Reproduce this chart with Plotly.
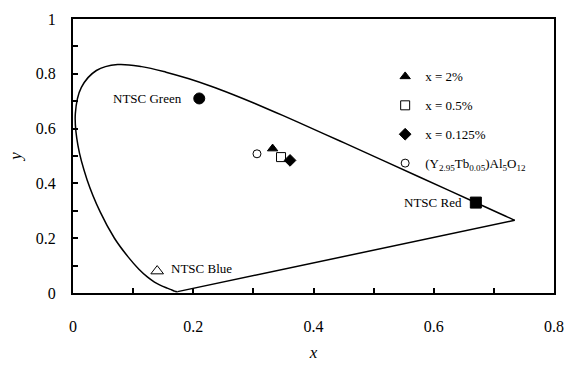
import plotly.graph_objects as go

# CIE 1931 spectral locus (x, y)
locus_x = [0.1741, 0.1733, 0.1714, 0.1689, 0.1644, 0.1566, 0.1440, 0.1355, 0.1241, 0.1096,
           0.0913, 0.0687, 0.0454, 0.0235, 0.0082, 0.0039, 0.0139, 0.0389, 0.0743, 0.1142,
           0.1547, 0.1929, 0.2296, 0.2658, 0.3016, 0.3373, 0.3731, 0.4441, 0.5125, 0.5752,
           0.6270, 0.6658, 0.6915, 0.7079, 0.7190, 0.7260, 0.7347]
locus_y = [0.0050, 0.0048, 0.0051, 0.0069, 0.0109, 0.0177, 0.0297, 0.0399, 0.0578, 0.0868,
           0.1327, 0.2007, 0.2950, 0.4127, 0.5384, 0.6548, 0.7502, 0.8120, 0.8338, 0.8262,
           0.8059, 0.7816, 0.7543, 0.7243, 0.6923, 0.6589, 0.6245, 0.5547, 0.4866, 0.4242,
           0.3725, 0.3340, 0.3083, 0.2920, 0.2809, 0.2740, 0.2653]
# line of purples (closing straight line)
purple_x = [0.7347, 0.1741]
purple_y = [0.2653, 0.0050]

# NTSC primaries
ntsc_names = ["NTSC Green", "NTSC Red", "NTSC Blue"]
ntsc_x = [0.21, 0.67, 0.14]
ntsc_y = [0.71, 0.33, 0.08]

# Samples
sample_names = ["x = 2%", "x = 0.5%", "x = 0.125%",
                "(Y<sub>2.95</sub>Tb<sub>0.05</sub>)Al<sub>5</sub>O<sub>12</sub>"]
sample_x = [0.332, 0.346, 0.361, 0.306]
sample_y = [0.527, 0.496, 0.484, 0.508]
sample_symbols = ["triangle-up", "square-open", "diamond", "circle-open"]
sample_sizes = [9, 9, 9, 8]

FONT = "Times New Roman"

fig = go.Figure()
fig.add_trace(go.Scatter(x=locus_x, y=locus_y, mode="lines", line_shape="spline",
                         line=dict(color="black", width=1.5, smoothing=1.0), showlegend=False,
                         hoverinfo="skip"))
fig.add_trace(go.Scatter(x=purple_x, y=purple_y, mode="lines",
                         line=dict(color="black", width=1.5), showlegend=False,
                         hoverinfo="skip"))

ntsc_symbols = ["circle", "square", "triangle-up-open"]
ntsc_sizes = [11, 11, 11]
for n, x, y, s, sz in zip(ntsc_names, ntsc_x, ntsc_y, ntsc_symbols, ntsc_sizes):
    fig.add_trace(go.Scatter(x=[x], y=[y], mode="markers", name=n, showlegend=False,
                             marker=dict(symbol=s, size=sz, color="black",
                                         line=dict(color="black", width=1))))

for i, (n, x, y, s, sz) in enumerate(zip(sample_names, sample_x, sample_y, sample_symbols, sample_sizes)):
    fig.add_trace(go.Scatter(x=[x], y=[y], mode="markers", name=n, legendgroup=f"g{i}",
                             marker=dict(symbol=s, size=sz, color="black",
                                         line=dict(color="black", width=1))))

# labels for NTSC points
fig.add_annotation(x=ntsc_x[0], y=ntsc_y[0], text="NTSC Green", showarrow=False,
                   xanchor="right", xshift=-15, font=dict(size=13, family=FONT, color="black"))
fig.add_annotation(x=ntsc_x[1], y=ntsc_y[1], text="NTSC Red", showarrow=False,
                   xanchor="right", xshift=-12, font=dict(size=13, family=FONT, color="black"))
fig.add_annotation(x=ntsc_x[2], y=ntsc_y[2], text="NTSC Blue", showarrow=False,
                   xanchor="left", xshift=12, yshift=3, font=dict(size=13, family=FONT, color="black"))

axis_common = dict(
    showgrid=False, zeroline=False, showline=True, linecolor="black", linewidth=2,
    mirror=True, ticks="inside", ticklen=5, tickwidth=2, tickcolor="black",
    tickfont=dict(size=16, family=FONT, color="black"),
)

fig.update_layout(
    width=575, height=370,
    margin=dict(l=73, r=11, t=18, b=72),
    paper_bgcolor="white", plot_bgcolor="white",
    font=dict(family=FONT, color="black"),
    xaxis=dict(range=[0, 0.8], dtick=0.2, tick0=0,
               minor=dict(dtick=0.1, ticks="inside", ticklen=5, tickwidth=2, tickcolor="black"),
               ticklabelstandoff=18,
               title=dict(text="<i>x</i>", font=dict(size=17, family=FONT), standoff=12),
               **axis_common),
    yaxis=dict(range=[0, 1], dtick=0.2, tick0=0,
               minor=dict(dtick=0.1, ticks="inside", ticklen=5, tickwidth=2, tickcolor="black"),
               ticklabelstandoff=12,
               title=dict(text="<i>y</i>", font=dict(size=17, family=FONT), standoff=10),
               **axis_common),
    legend=dict(x=0.649, y=0.845, xanchor="left", yanchor="top",
                bgcolor="rgba(0,0,0,0)", font=dict(size=13, family=FONT, color="black"),
                tracegroupgap=9, itemwidth=30),
    showlegend=True,
)

fig.write_html("out.html")
